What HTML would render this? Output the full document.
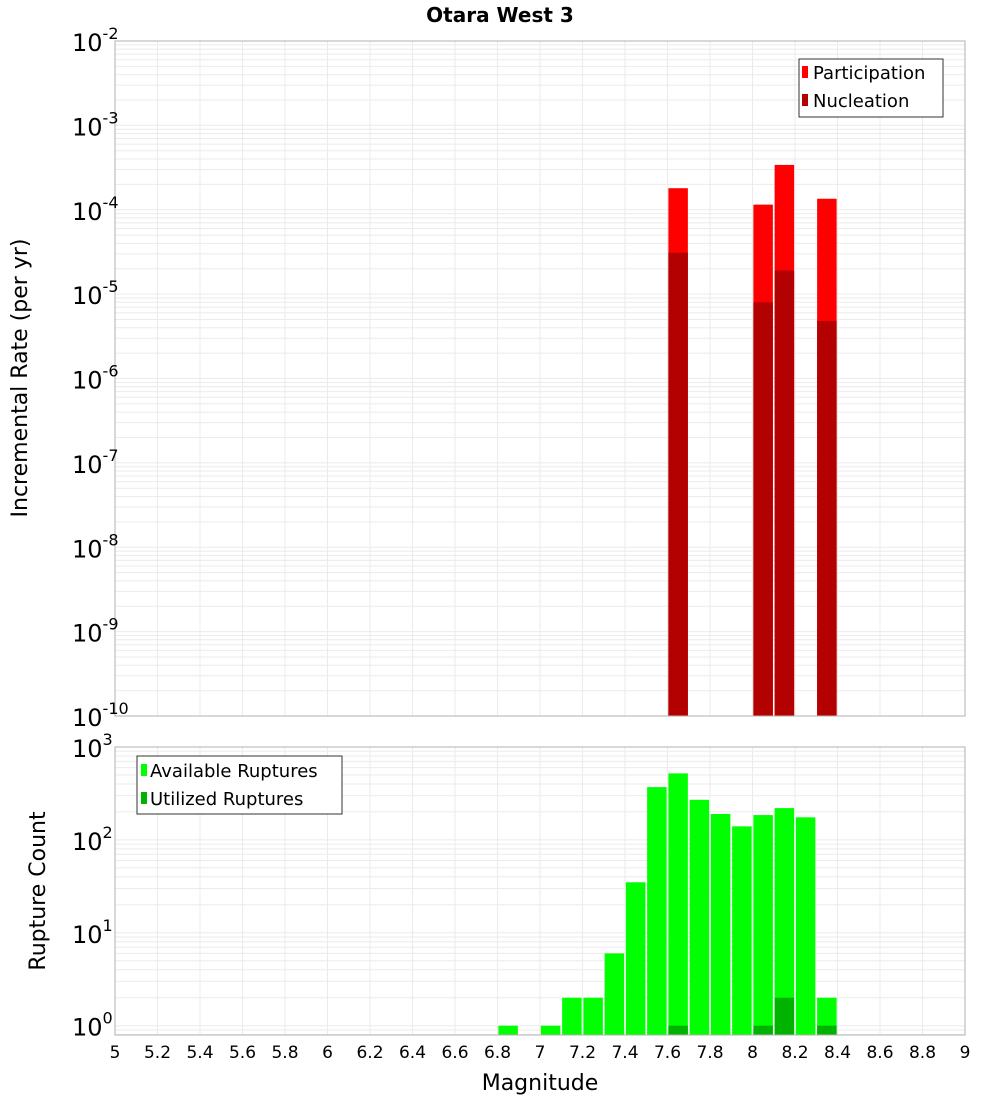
<!DOCTYPE html>
<html><head><meta charset="utf-8"><style>
body{margin:0;background:#fff;width:1000px;height:1100px;overflow:hidden}
svg{font-family:"DejaVu Sans","Liberation Sans",sans-serif}
</style></head><body>
<svg id="c" width="1000" height="1100" xmlns="http://www.w3.org/2000/svg"></svg>
<script>
const mags=[7.65,8.05,8.15,8.35];
const participation=[1.8e-4,1.15e-4,3.4e-4,1.35e-4];
const nucleation=[3.1e-5,8e-6,1.9e-5,4.8e-6];
const countMags=[6.85,7.05,7.15,7.25,7.35,7.45,7.55,7.65,7.75,7.85,7.95,8.05,8.15,8.25,8.35];
const available=[1,1,2,2,6,35,370,520,270,190,140,185,220,175,2];
const utilMags=[7.65,8.05,8.15,8.35];
const utilized=[1,1,2,1];
const xTicks=[5,5.2,5.4,5.6,5.8,6,6.2,6.4,6.6,6.8,7,7.2,7.4,7.6,7.8,8,8.2,8.4,8.6,8.8,9];
const topExp=[-2,-3,-4,-5,-6,-7,-8,-9,-10];
const botExp=[3,2,1,0];

const svg=document.getElementById('c');const NS='http://www.w3.org/2000/svg';
function el(t,a,p){const e=document.createElementNS(NS,t);for(const k in a)e.setAttribute(k,a[k]);(p||svg).appendChild(e);return e;}
const X0=115,X1=965;
const x=m=>X0+(m-5)/4*(X1-X0);
const yTop=v=>41+(-2-Math.log10(v))*84.375;
const T0=41,T1=716;
const yBot=v=>747+(3-Math.log10(v))*92.9;
const B0=747,B1=1035;
const bw=19.5;

function grid(y0,y1,lo,hi,yf){
  for(let e=lo;e<hi;e++)for(let k=1;k<10;k++){const yy=yf(k*Math.pow(10,e));if(yy>=y0-0.5&&yy<=y1+0.5){const l=el('line',{x1:X0,x2:X1,y1:yy,y2:yy,stroke:'#ebebeb','stroke-width':1});}}
  xTicks.forEach(t=>{const l=el('line',{x1:x(t),x2:x(t),y1:y0,y2:y1,stroke:'#ebebeb','stroke-width':1});});
}
grid(T0,T1,-10,-1,yTop);
grid(B0,B1,-1,3,yBot);

mags.forEach((m,i)=>{
  const r=el('rect',{x:x(m)-bw/2,y:yTop(participation[i]),width:bw,height:T1-yTop(participation[i]),fill:'#ff0000'});
  
  const n=el('rect',{x:x(m)-bw/2,y:yTop(nucleation[i]),width:bw,height:T1-yTop(nucleation[i]),fill:'#b30000'});
  
});
countMags.forEach((m,i)=>{
  const r=el('rect',{x:x(m)-bw/2,y:yBot(available[i]),width:bw,height:B1-yBot(available[i]),fill:'#00ff00'});
  
});
utilMags.forEach((m,i)=>{
  const r=el('rect',{x:x(m)-bw/2,y:yBot(utilized[i]),width:bw,height:B1-yBot(utilized[i]),fill:'#00b300'});
  
});

const f1=el('rect',{x:X0,y:T0,width:X1-X0,height:T1-T0,fill:'none',stroke:'#b0b0b0'});

const f2=el('rect',{x:X0,y:B0,width:X1-X0,height:B1-B0,fill:'none',stroke:'#b0b0b0'});


function expLabel(e,yy,name){
  const t=el('text',{x:104,y:yy+10,'text-anchor':'end','font-size':24,fill:'#000'});
  t.textContent='10';
  const s=el('tspan',{dy:-12,'font-size':16});s.textContent=String(e);t.appendChild(s);
  t.setAttribute('text-anchor','start');t.setAttribute('x',72);
  
}
topExp.forEach(e=>expLabel(e,yTop(Math.pow(10,e)),'y-tick-label'));
botExp.forEach(e=>expLabel(e,yBot(Math.pow(10,e)),'count-tick-label'));
xTicks.forEach(t=>{
  const tx=el('text',{x:x(t),y:1058,'text-anchor':'middle','font-size':17,fill:'#000'});
  tx.textContent=String(t);
});
</script>
<svg width="1000" height="1100" style="position:absolute;left:0;top:0" xmlns="http://www.w3.org/2000/svg">
<text x="500" y="22" text-anchor="middle" font-size="20" font-weight="bold">Otara West 3</text>
<text transform="translate(27,378) rotate(-90)" text-anchor="middle" font-size="22">Incremental Rate (per yr)</text>
<text transform="translate(45,891) rotate(-90)" text-anchor="middle" font-size="22">Rupture Count</text>
<text x="540" y="1090" text-anchor="middle" font-size="22">Magnitude</text>
<g>
<rect x="799" y="59" width="144" height="58" fill="#fff" stroke="#333"/>
<rect x="802" y="66" width="6" height="12" fill="#ff0000"/>
<text x="813" y="79" font-size="18">Participation</text>
<rect x="802" y="94" width="6" height="12" fill="#b30000"/>
<text x="813" y="107" font-size="18">Nucleation</text>
</g>
<g>
<rect x="137" y="756" width="205" height="58" fill="#fff" stroke="#333"/>
<rect x="141" y="764" width="6" height="12" fill="#00ff00"/>
<text x="150" y="777" font-size="18">Available Ruptures</text>
<rect x="141" y="792" width="6" height="12" fill="#00b300"/>
<text x="150" y="805" font-size="18">Utilized Ruptures</text>
</g>
</svg>
<style>body{position:relative}</style>
</body></html>
